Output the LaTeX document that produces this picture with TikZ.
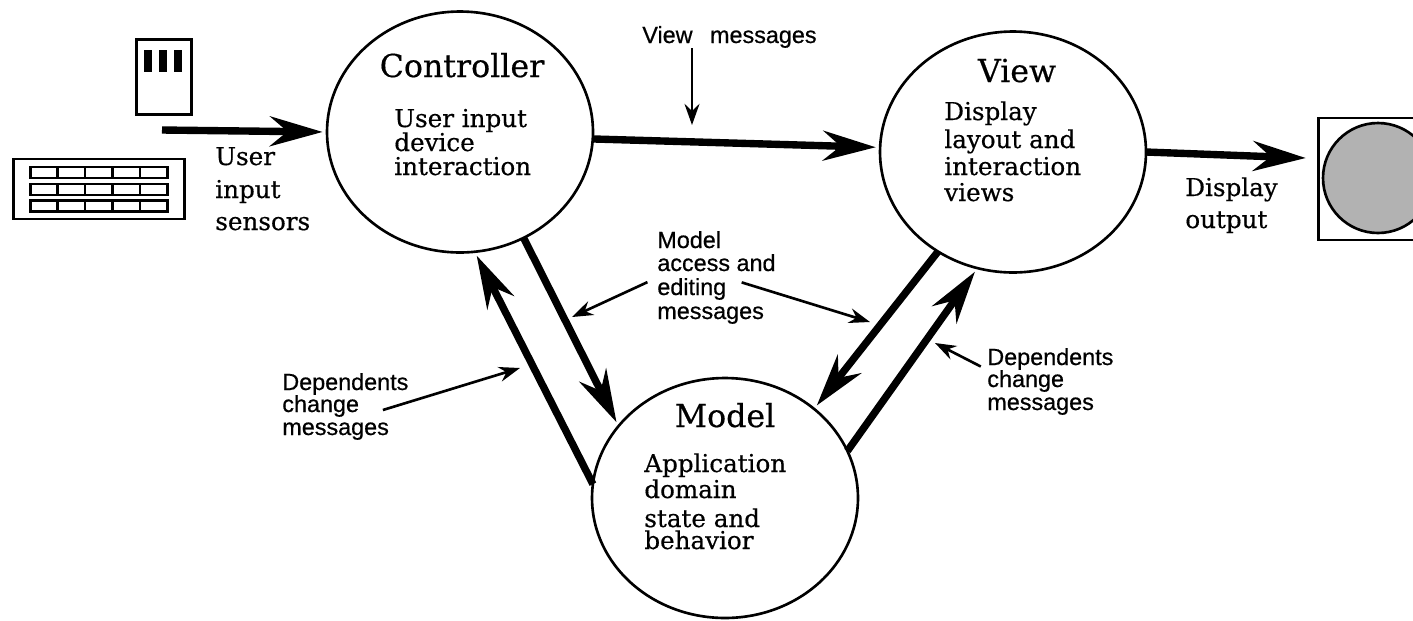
\documentclass[tikz,border=0pt]{standalone}
\usepackage{fontspec}
\usepackage{tikz}
\usepackage{xcolor}
\setmainfont[FakeBold=0.5]{DejaVu Serif}
\newfontfamily\smallfont[FakeBold=0.6]{Liberation Sans}
\usetikzlibrary{positioning,arrows.meta,shapes.geometric,calc}

\tikzset{
  blob/.style={ellipse, draw, line width=1.5pt, inner sep=0pt, outer sep=0pt, minimum width=5.32cm, minimum height=4.82cm},
  title/.style={anchor=base, inner sep=0pt, font=\fontsize{18}{20}\selectfont},
  body/.style={anchor=base west, inner sep=0pt, font=\fontsize{14}{15}\selectfont},
  msg/.style={anchor=base west, inner sep=0pt, font=\smallfont\fontsize{13.3}{14}\selectfont},
  bigarrow/.style={line width=4.2pt, -{Stealth[length=30pt,width=17pt,inset=10pt]}, shorten >=2.5pt},
  thinarrow/.style={line width=1.5pt, -{Stealth[length=12pt,width=8.5pt,inset=4pt]}},
  keycap/.style={rectangle, draw, line width=1.5pt, inner sep=0pt, minimum width=0.55cm, minimum height=0.22cm}
}

\begin{document}
\begin{tikzpicture}[x=0.02cm,y=-0.02cm]
        \useasboundingbox (0,0) rectangle (1413,620);

        % Three circles
        \node[blob] (Controller) at (460,132) {};
        \node[blob] (View) at (1013,152) {};
        \node[blob, minimum height=4.8cm] (Model) at (725,498) {};

        \node[title] (ctlname) at (462,77) {Controller};
        \node[title] (viewname) at (1017,82) {View};
        \node[title] (modelname) at (725,427) {Model};

        % Text inside the circles
        \foreach \i/\y/\txt in {1/127/User input, 2/151/device, 3/175/interaction} {
          \node[body] (ctl\i) at (394,\y) {\txt};
        }
        \foreach \i/\y/\txt in {1/120/Display, 2/148/layout and, 3/175/interaction, 4/201/views} {
          \node[body] (view\i) at (944,\y) {\txt};
        }
        \foreach \i/\y/\txt in {1/472/Application, 2/498/domain, 3/527/state and, 4/549/behavior} {
          \node[body] (model\i) at (644,\y) {\txt};
        }

        % Sensors and display labels
        \foreach \i/\y/\txt in {1/165/User, 2/198/input, 3/230/sensors} {
          \node[body] (sens\i) at (215,\y) {\txt};
        }
        \foreach \i/\y/\txt in {1/196/Display, 2/228/output} {
          \node[body] (out\i) at (1185,\y) {\txt};
        }

        % Message labels
        \node[msg] (vmsg) at (642,43) {View\hspace{0.75em}messages};
        \foreach \i/\y/\txt in {1/248/Model, 2/271/access and, 3/295/editing, 4/319/messages} {
          \node[msg] (mdl\i) at (657,\y) {\txt};
        }
        \foreach \i/\y/\txt in {1/390/Dependents, 2/412/change, 3/435/messages} {
          \node[msg] (dpl\i) at (282,\y) {\txt};
        }
        \foreach \i/\y/\txt in {1/365/Dependents, 2/387/change, 3/410/messages} {
          \node[msg] (dpr\i) at (987,\y) {\txt};
        }

        % Mouse
        \node[rectangle, draw, line width=1.5pt, inner sep=0pt, minimum width=1.1cm, minimum height=1.5cm] (mouse) at (164,77) {};
        \foreach \i/\x in {1/148, 2/163, 3/178} {
          \node[rectangle, fill=black, inner sep=0pt, minimum width=0.15cm, minimum height=0.44cm] (btn\i) at (\x,61) {};
        }

        % Keyboard
        \node[rectangle, draw, line width=1.5pt, inner sep=0pt, minimum width=3.42cm, minimum height=1.2cm] (kbd) at (99,189) {};
        \foreach \r/\y in {1/172.5, 2/189.5, 3/206} {
          \foreach \k in {0,1,2,3,4} {
            \node[keycap] (key\r\k) at (44+\k*27.4,\y) {};
          }
        }

        % Display
        \node[rectangle, draw, line width=1.5pt, inner sep=0pt, minimum width=2.3cm, minimum height=2.44cm] (screen) at (1376,179) {};
        \node[circle, draw, fill=gray!60, line width=1.5pt, inner sep=0pt, minimum size=2.2cm] (tube) at (1378,178) {};

        % Free ends
        \coordinate (userin) at (162,130);
        \coordinate (vtip) at (692,125);
        \coordinate (mtipl) at (572,317);
        \coordinate (mtipr) at (870,322);
        \coordinate (dtipl) at (520,368);
        \coordinate (dtipr) at (935,343);

        % Thick arrows
        \draw[bigarrow] (userin) -- (Controller.west);
        \draw[bigarrow] (Controller.-3) -- (View.178);
        \draw[bigarrow, shorten >=11pt] (View.0) -- (tube.160);
        \draw[bigarrow] (Controller.-59) -- (Model.146);
        \draw[bigarrow] (Model.174) -- (Controller.-83);
        \draw[bigarrow] (View.-127) -- (Model.45);
        \draw[bigarrow] (Model.21) -- (View.-107);

        % Thin arrows
        \draw[thinarrow] (vmsg.south -| vtip) -- (vtip);
        \draw[thinarrow, shorten <=6pt] (mdl3.north west) -- (mtipl);
        \draw[thinarrow, shorten <=9pt] (mdl3.north east) -- (mtipr);
        \draw[thinarrow, shorten <=14pt] (dpl2.south east) -- (dtipl);
        \draw[thinarrow, shorten <=4pt] (dpr2.north west) -- (dtipr);
    \end{tikzpicture}
\end{document}
